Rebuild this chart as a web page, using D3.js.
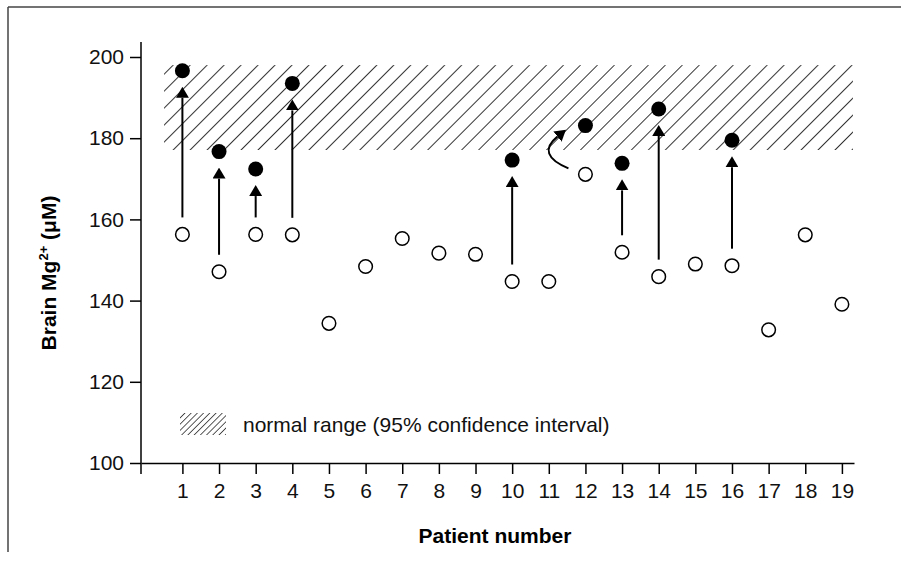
<!DOCTYPE html>
<html>
<head>
<meta charset="utf-8">
<script src="https://cdn.jsdelivr.net/npm/d3@7"></script>
<style>
  body { margin: 0; background: #fff; }
  svg { display: block; font-family: "Liberation Sans", Arial, sans-serif; }
</style>
</head>
<body>
<div id="chart"></div>
<script>
// Patient numbers on the x axis
const patients = [1, 2, 3, 4, 5, 6, 7, 8, 9, 10, 11, 12, 13, 14, 15, 16, 17, 18, 19];
// Brain Mg2+ before treatment (open circles)
const baseline = [156.3, 147.1, 156.3, 156.2, 134.4, 148.4, 155.3, 151.7, 151.4, 144.7,
                  144.7, 171.1, 151.9, 145.9, 149.0, 148.6, 132.8, 156.2, 139.1];
// Patients that were re-measured, and their value after treatment (filled circles)
const treatedPatients = [1, 2, 3, 4, 10, 12, 13, 14, 16];
const treatedValues = [196.6, 176.7, 172.4, 193.5, 174.6, 183.1, 173.8, 187.2, 179.5];
// Patients whose arrow is drawn curved
const curvedArrows = [12];
// Normal range (95% confidence interval)
const normalRange = [177.1, 198.0];
const yTicks = [100, 120, 140, 160, 180, 200];

const width = 901;
const height = 562;

const svg = d3.select('#chart')
    .append('svg')
    .attr('width', width)
    .attr('height', height);

const defs = svg.append('defs');

// hatch patterns: plot band and legend swatch
function hatch(id, spacing, sw) {
    defs.append('pattern')
        .attr('id', id)
        .attr('patternUnits', 'userSpaceOnUse')
        .attr('width', spacing)
        .attr('height', spacing)
        .attr('patternTransform', 'rotate(45)')
        .append('line')
        .attr('x1', 0).attr('y1', 0)
        .attr('x2', 0).attr('y2', spacing)
        .attr('stroke', '#000')
        .attr('stroke-width', sw);
}
hatch('hatch', 12, 1.6);
hatch('hatchSmall', 4.4, 1.3);

defs.append('marker')
    .attr('id', 'head')
    .attr('viewBox', '0 0 11 13')
    .attr('refX', 0)
    .attr('refY', 6.5)
    .attr('markerUnits', 'userSpaceOnUse')
    .attr('markerWidth', 11)
    .attr('markerHeight', 13)
    .attr('orient', 'auto')
    .append('path')
    .attr('d', 'M0,0L11,6.5L0,13z')
    .attr('fill', '#000');

// outer frame (top and left edges only)
svg.append('line')
    .attr('x1', 8).attr('y1', 7).attr('x2', width).attr('y2', 7)
    .attr('stroke', '#444').attr('stroke-width', 1.5);
svg.append('line')
    .attr('x1', 8).attr('y1', 7).attr('x2', 8).attr('y2', 552)
    .attr('stroke', '#444').attr('stroke-width', 1.5);

// scales
const x = d3.scaleLinear()
    .domain([-0.13, 19.33])
    .range([141, 854]);

const y = d3.scaleLinear()
    .domain([100, 200])
    .range([463, 57]);

// normal range band
svg.append('rect')
    .attr('x', x(0.5))
    .attr('y', y(normalRange[1]))
    .attr('width', x(19.3) - x(0.5))
    .attr('height', y(normalRange[0]) - y(normalRange[1]))
    .attr('fill', 'url(#hatch)');

// y axis
const yAxis = svg.append('g')
    .attr('transform', `translate(${x.range()[0]},0)`)
    .call(d3.axisLeft(y).tickValues(yTicks).tickSize(11).tickPadding(6));
yAxis.select('.domain').remove();
yAxis.append('line')
    .attr('x1', 0).attr('x2', 0)
    .attr('y1', y(203.7)).attr('y2', y(100) + 11)
    .attr('stroke', '#000').attr('stroke-width', 1.5);

// x axis
const xAxis = svg.append('g')
    .attr('transform', `translate(0,${y(100)})`)
    .call(d3.axisBottom(x).tickValues(patients).tickSize(11).tickPadding(9).tickSizeOuter(0));
xAxis.select('.domain').attr('stroke-width', 1.5);

svg.selectAll('.tick line').attr('stroke-width', 1.5);
svg.selectAll('.tick text')
    .style('font-size', '21px')
    .attr('fill', '#111');

// arrows from baseline to treated value
const baseOf = p => baseline[patients.indexOf(p)];
const arrows = treatedPatients.map((p, i) => ({ p, from: baseOf(p), to: treatedValues[i] }));

svg.selectAll('.straight')
    .data(arrows.filter(d => !curvedArrows.includes(d.p)))
    .enter().append('line')
    .attr('class', 'straight')
    .attr('x1', d => x(d.p))
    .attr('x2', d => x(d.p))
    .attr('y1', d => y(d.from) - 17)
    .attr('y2', d => y(d.to) + 27)
    .attr('stroke', '#000')
    .attr('stroke-width', 2)
    .attr('marker-end', 'url(#head)');

svg.selectAll('.curved')
    .data(arrows.filter(d => curvedArrows.includes(d.p)))
    .enter().append('path')
    .attr('class', 'curved')
    .attr('d', d => {
        const x0 = x(d.p) - 17, y0 = y(d.from) - 6;
        const x1 = x(d.p) - 28, y1 = y(d.to) + 11;
        return `M${x0},${y0}Q${x(d.p) - 50},${(y0 + y1) / 2 + 2} ${x1},${y1}`;
    })
    .attr('fill', 'none')
    .attr('stroke', '#000')
    .attr('stroke-width', 2)
    .attr('marker-end', 'url(#head)');

// baseline points
svg.selectAll('.open')
    .data(patients)
    .enter().append('circle')
    .attr('class', 'open')
    .attr('cx', d => x(d))
    .attr('cy', (d, i) => y(baseline[i]))
    .attr('r', 6.8)
    .attr('fill', '#fff')
    .attr('stroke', '#000')
    .attr('stroke-width', 1.5);

// after treatment points
svg.selectAll('.filled')
    .data(treatedPatients)
    .enter().append('circle')
    .attr('class', 'filled')
    .attr('cx', d => x(d))
    .attr('cy', (d, i) => y(treatedValues[i]))
    .attr('r', 7.5)
    .attr('fill', '#000');

// legend
svg.append('rect')
    .attr('x', 180).attr('y', 413)
    .attr('width', 46).attr('height', 22)
    .attr('fill', 'url(#hatchSmall)');
svg.append('text')
    .attr('x', 243).attr('y', 432)
    .style('font-size', '21px')
    .attr('fill', '#111')
    .text('normal range (95% confidence interval)');

// axis titles
svg.append('text')
    .attr('x', 495).attr('y', 543)
    .attr('text-anchor', 'middle')
    .style('font-size', '21px')
    .style('font-weight', 'bold')
    .text('Patient number');

const yTitle = svg.append('text')
    .attr('transform', 'translate(56,273) rotate(-90)')
    .attr('text-anchor', 'middle')
    .style('font-size', '21px')
    .style('font-weight', 'bold');
yTitle.append('tspan').text('Brain Mg');
yTitle.append('tspan').attr('dy', -8).style('font-size', '13px').text('2+');
yTitle.append('tspan').attr('dy', 8).text(' (μM)');
</script>
</body>
</html>
